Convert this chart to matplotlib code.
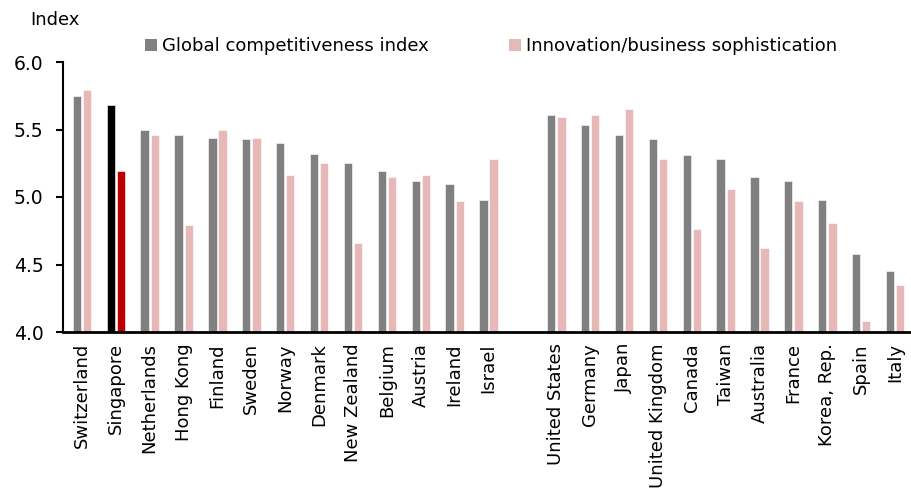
import numpy as np
import matplotlib.pyplot as plt
from matplotlib.patches import Patch

# smaller advanced economies, then the larger ones
small = ["Switzerland", "Singapore", "Netherlands", "Hong Kong", "Finland", "Sweden",
         "Norway", "Denmark", "New Zealand", "Belgium", "Austria", "Ireland", "Israel"]
large = ["United States", "Germany", "Japan", "United Kingdom", "Canada", "Taiwan",
         "Australia", "France", "Korea, Rep.", "Spain", "Italy"]

gci_small = [5.75, 5.68, 5.50, 5.46, 5.44, 5.43, 5.40, 5.32, 5.25, 5.19, 5.12, 5.10, 4.98]
inno_small = [5.79, 5.19, 5.46, 4.79, 5.50, 5.44, 5.16, 5.25, 4.66, 5.15, 5.16, 4.97, 5.28]
gci_large = [5.61, 5.53, 5.46, 5.43, 5.31, 5.28, 5.15, 5.12, 4.98, 4.58, 4.45]
inno_large = [5.59, 5.61, 5.65, 5.28, 4.76, 5.06, 4.62, 4.97, 4.81, 4.08, 4.35]

yticks = [4.0, 4.5, 5.0, 5.5, 6.0]

grey = "#808080"
pink = "#E6B9B8"

plt.rcParams['font.family'] = ['DejaVu Sans']

names = small + large
gci = np.array(gci_small + gci_large)
inno = np.array(inno_small + inno_large)
x = np.r_[np.arange(len(small)), np.arange(len(large)) + len(small) + 1]

c1 = [grey] * len(names)
c2 = [pink] * len(names)
c1[names.index("Singapore")] = "black"
c2[names.index("Singapore")] = "#C00000"

fig = plt.figure(figsize=(9.12, 4.93), dpi=100)
ax = fig.add_axes([63 / 912, 1 - 332 / 493, 1 - 63 / 912, 270 / 493])

w = 0.245
base = 4.0
ax.bar(x - 0.15, gci - base, w, bottom=base, color=c1, edgecolor="white", linewidth=0.4)
ax.bar(x + 0.15, inno - base, w, bottom=base, color=c2, edgecolor="white", linewidth=0.4)

ax.set_ylim(4.0, 6.0)
ax.set_xlim(-0.56, x[-1] + 0.5)
ax.set_yticks(yticks)
ax.set_yticklabels([f"{v:.1f}" for v in yticks], fontsize=13.5)
ax.set_xticks(x)
ax.set_xticklabels(names, rotation=90, fontsize=13)
ax.tick_params(axis="x", length=0, pad=8)
ax.tick_params(axis="y", length=5, width=1.5, pad=9)

for s in ["top", "right"]:
    ax.spines[s].set_visible(False)
ax.spines["left"].set_linewidth(1.5)
ax.spines["bottom"].set_linewidth(2)

fig.text(30 / 912, 1 - 20 / 493, "Index", fontsize=13, va="center", ha="left")

handles = [Patch(facecolor=grey), Patch(facecolor=pink)]
fig.legend(handles, ["Global competitiveness index", "Innovation/business sophistication"],
           loc="center", bbox_to_anchor=(491 / 912, 1 - 46 / 493), ncol=2, frameon=False,
           fontsize=13, handlelength=0.67, handleheight=0.67, handletextpad=0.3,
           columnspacing=4.4, borderpad=0, borderaxespad=0)

fig.savefig("out.png", dpi=100)
